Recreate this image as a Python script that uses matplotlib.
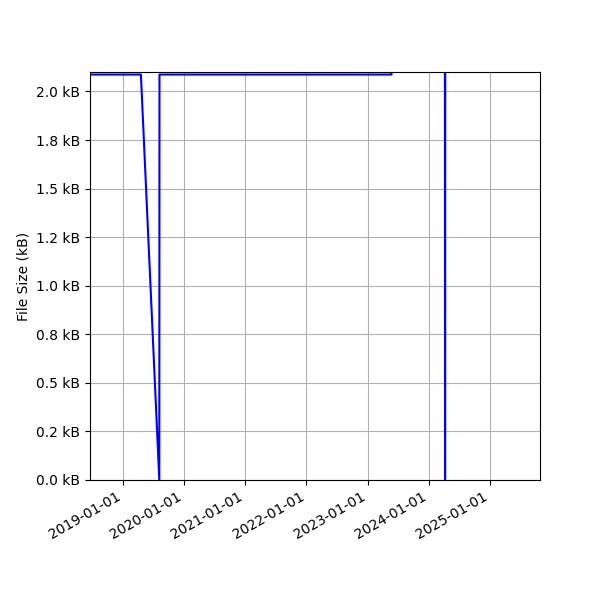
import matplotlib
matplotlib.use("Agg")
import matplotlib.pyplot as plt
import matplotlib.dates as mdates
import matplotlib.ticker as ticker
import pandas as pd

# file size history (bytes)
dates = ["2018-06-01", "2019-04-18", "2019-08-06", "2019-08-07", "2023-05-24",
         "2023-05-25", "2024-04-07", "2024-04-08", "2024-04-09", "2025-12-01"]
sizes = [2087, 2087, 0, 2087, 2087, 2150, 2150, 0, 2150, 2150]

xmin, xmax = "2018-06-18", "2025-10-27"
ymax = 2100

dates = pd.to_datetime(dates)

fig, ax = plt.subplots(figsize=(6, 6), dpi=100)
ax.plot(dates, sizes, color='blue', linewidth=1.5)
ax.set_xlim(pd.Timestamp(xmin), pd.Timestamp(xmax))
ax.set_ylim(0, ymax)
ax.set_ylabel('File Size (kB)')
ax.yaxis.set_major_locator(ticker.MultipleLocator(250))
ax.yaxis.set_major_formatter(ticker.FuncFormatter(lambda v, p: '%.1f kB' % (v / 1000)))
ax.xaxis.set_major_locator(mdates.YearLocator())
ax.xaxis.set_major_formatter(mdates.DateFormatter('%Y-%m-%d'))
ax.grid(True)
fig.autofmt_xdate()
fig.subplots_adjust(left=0.15)
fig.savefig('out.png')
